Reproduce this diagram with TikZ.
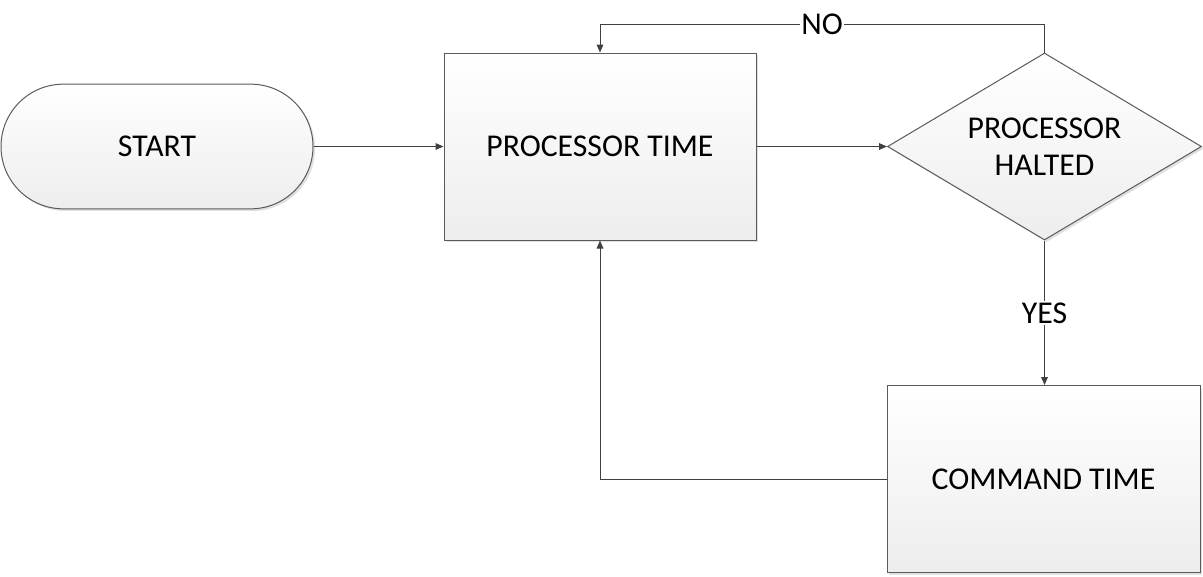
\documentclass[tikz,border=0pt]{standalone}
\usepackage{fontspec}
\setmainfont{Carlito}
\usetikzlibrary{shapes.geometric,shapes.misc,arrows.meta,shadows}
\definecolor{edgec}{HTML}{5A5A5A}
\definecolor{linec}{HTML}{404040}
\begin{document}
\begin{tikzpicture}[x=0.75pt,y=-0.75pt,
  every node/.style={font=\fontsize{23.8}{27.5}\selectfont},
  shp/.style={draw=edgec,line width=0.75pt,top color=white,bottom color=black!7,
    drop shadow={shadow xshift=1.6pt,shadow yshift=-1.6pt,fill=black,opacity=0.12},
    inner sep=0pt,align=center},
  boxs/.style={shp,rectangle,minimum width=234pt,minimum height=140.25pt},
  conn/.style={draw=linec,line width=0.75pt,-{Triangle[length=6pt,width=5pt]}},
  lab/.style={fill=white,inner sep=1pt}]
\useasboundingbox (0,0) rectangle (1203,576);
\node[shp,rounded rectangle,minimum width=234pt,minimum height=93.5pt] (start) at (157,146.5) {START};
\node[boxs] (ptime) at (600,146.5) {PROCESSOR TIME};
\node[shp,diamond,shape aspect=1.68,minimum width=235.5pt,minimum height=140.25pt] (halt) at (1044.5,146.5) {PROCESSOR\\HALTED};
\node[boxs,minimum width=234.75pt] (cmd) at (1043.5,479) {COMMAND TIME};
\coordinate (nor) at (1044.5,24);
\coordinate (nol) at (600,24);
\coordinate (bl) at (600,479);
\draw[conn] (start.east) -- (ptime.west);
\draw[conn] (ptime.east) -- (halt.west);
\draw[conn] (halt.north) -- (nor) -- (nol) -- (ptime.north);
\node[lab] (no) at (822,24) {NO};
\draw[conn] (halt.south) -- (cmd.north -| halt.south);
\node[lab] (yes) at (1044.5,313) {YES};
\draw[conn] (cmd.west) -- (bl) -- (ptime.south);
\end{tikzpicture}
\end{document}
